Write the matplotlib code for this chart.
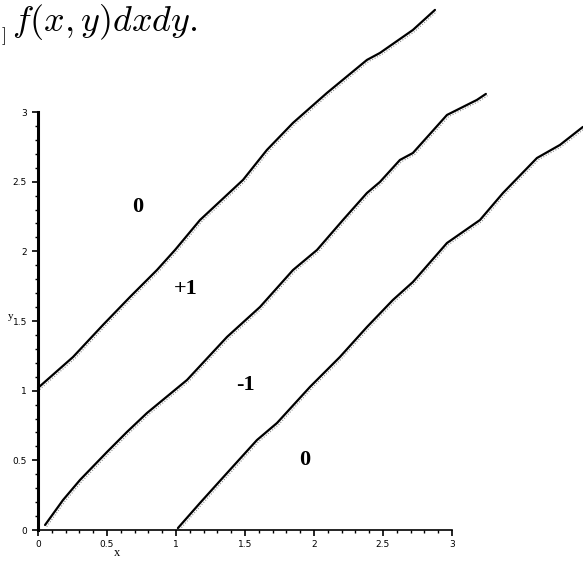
import matplotlib
matplotlib.use("Agg")
import matplotlib.pyplot as plt
import matplotlib.transforms as mtransforms
import numpy as np

plt.rcParams['mathtext.fontset'] = 'cm'

# =============== data ===============
# upper curve (starts at y = 1)
top_x = [0.0, 0.254, 0.471, 0.667, 0.862, 0.993, 1.174, 1.486, 1.659, 1.848,
         2.094, 2.384, 2.478, 2.717, 2.877]
top_y = [1.02, 1.242, 1.472, 1.673, 1.866, 2.010, 2.225, 2.513, 2.728, 2.922,
         3.137, 3.374, 3.424, 3.589, 3.733]

# middle curve (starts near origin)
mid_x = [0.051, 0.181, 0.304, 0.5, 0.645, 0.79, 1.08, 1.37, 1.609, 1.848,
         2.022, 2.21, 2.384, 2.478, 2.623, 2.717, 2.964, 3.181, 3.246]
mid_y = [0.036, 0.215, 0.359, 0.56, 0.704, 0.84, 1.077, 1.386, 1.601, 1.866,
         2.01, 2.225, 2.419, 2.498, 2.656, 2.706, 2.979, 3.087, 3.13]

# lower curve (starts at x = 1)
low_x = [1.014, 1.174, 1.37, 1.587, 1.732, 1.971, 2.188, 2.384, 2.572, 2.717,
         2.964, 3.203, 3.37, 3.616, 3.783, 3.949]
low_y = [0.014, 0.194, 0.409, 0.646, 0.768, 1.027, 1.242, 1.457, 1.651, 1.780,
         2.06, 2.225, 2.419, 2.67, 2.764, 2.893]

# region labels
region_text = ['0', '+1', '-1', '0']
region_x = [0.72, 1.07, 1.5, 1.93]
region_y = [2.32, 1.73, 1.04, 0.5]

tick_vals = [0, 0.5, 1, 1.5, 2, 2.5, 3]
tick_labels = ['0', '0.5', '1', '1.5', '2', '2.5', '3']

# =============== figure ===============
fig = plt.figure(figsize=(5.83, 5.69), dpi=100)
ax = fig.add_axes([0.0652, 0.0685, 0.710, 0.7346])

# faint dotted companion traces, shifted a little
shift = mtransforms.offset_copy(ax.transData, fig=fig, x=1.2, y=-1.2, units='points')
for xs, ys in [(top_x, top_y), (mid_x, mid_y), (low_x, low_y)]:
    ax.plot(xs, ys, color='0.55', lw=0.8, ls=(0, (1, 1.5)), clip_on=False, transform=shift)
    ax.plot(xs, ys, color='black', lw=1.6, clip_on=False,
            solid_capstyle='round', solid_joinstyle='round')

for t, x, y in zip(region_text, region_x, region_y):
    ax.text(x, y, t, fontsize=16, fontweight='bold', family='Liberation Serif',
            ha='center', va='center')

ax.set_xlim(0, 3)
ax.set_ylim(0, 3)
ax.set_xticks(tick_vals)
ax.set_xticklabels(tick_labels)
ax.set_yticks(tick_vals)
ax.set_yticklabels(tick_labels)
ax.set_xticks(np.arange(0, 3.01, 0.1), minor=True)
ax.set_yticks(np.arange(0, 3.01, 0.1), minor=True)
ax.tick_params(axis='both', which='major', labelsize=6.5, length=4, width=1.2, color='black')
ax.tick_params(axis='both', which='minor', length=2.5, width=1)
ax.tick_params(axis='y', pad=4)

ax.spines['top'].set_visible(False)
ax.spines['right'].set_visible(False)
ax.spines['left'].set_linewidth(2.2)
ax.spines['bottom'].set_linestyle((0, (1, 1)))
ax.spines['bottom'].set_linewidth(1.2)

ax.set_xlabel('x', fontsize=9, family='Liberation Serif')
ax.xaxis.set_label_coords(0.19, -0.04)
ax.set_ylabel('y', fontsize=8, family='Liberation Serif', rotation=0)
ax.yaxis.set_label_coords(-0.065, 0.5)

# scanned caption fragment above the plot
fig.text(0.02, 0.945, r'$f(x,y)dxdy.$', fontsize=26, ha='left', va='baseline')
fig.text(0.002, 0.93, r'$]$', fontsize=13, ha='left', va='baseline')

fig.savefig('out.png', dpi=100, facecolor='white')
